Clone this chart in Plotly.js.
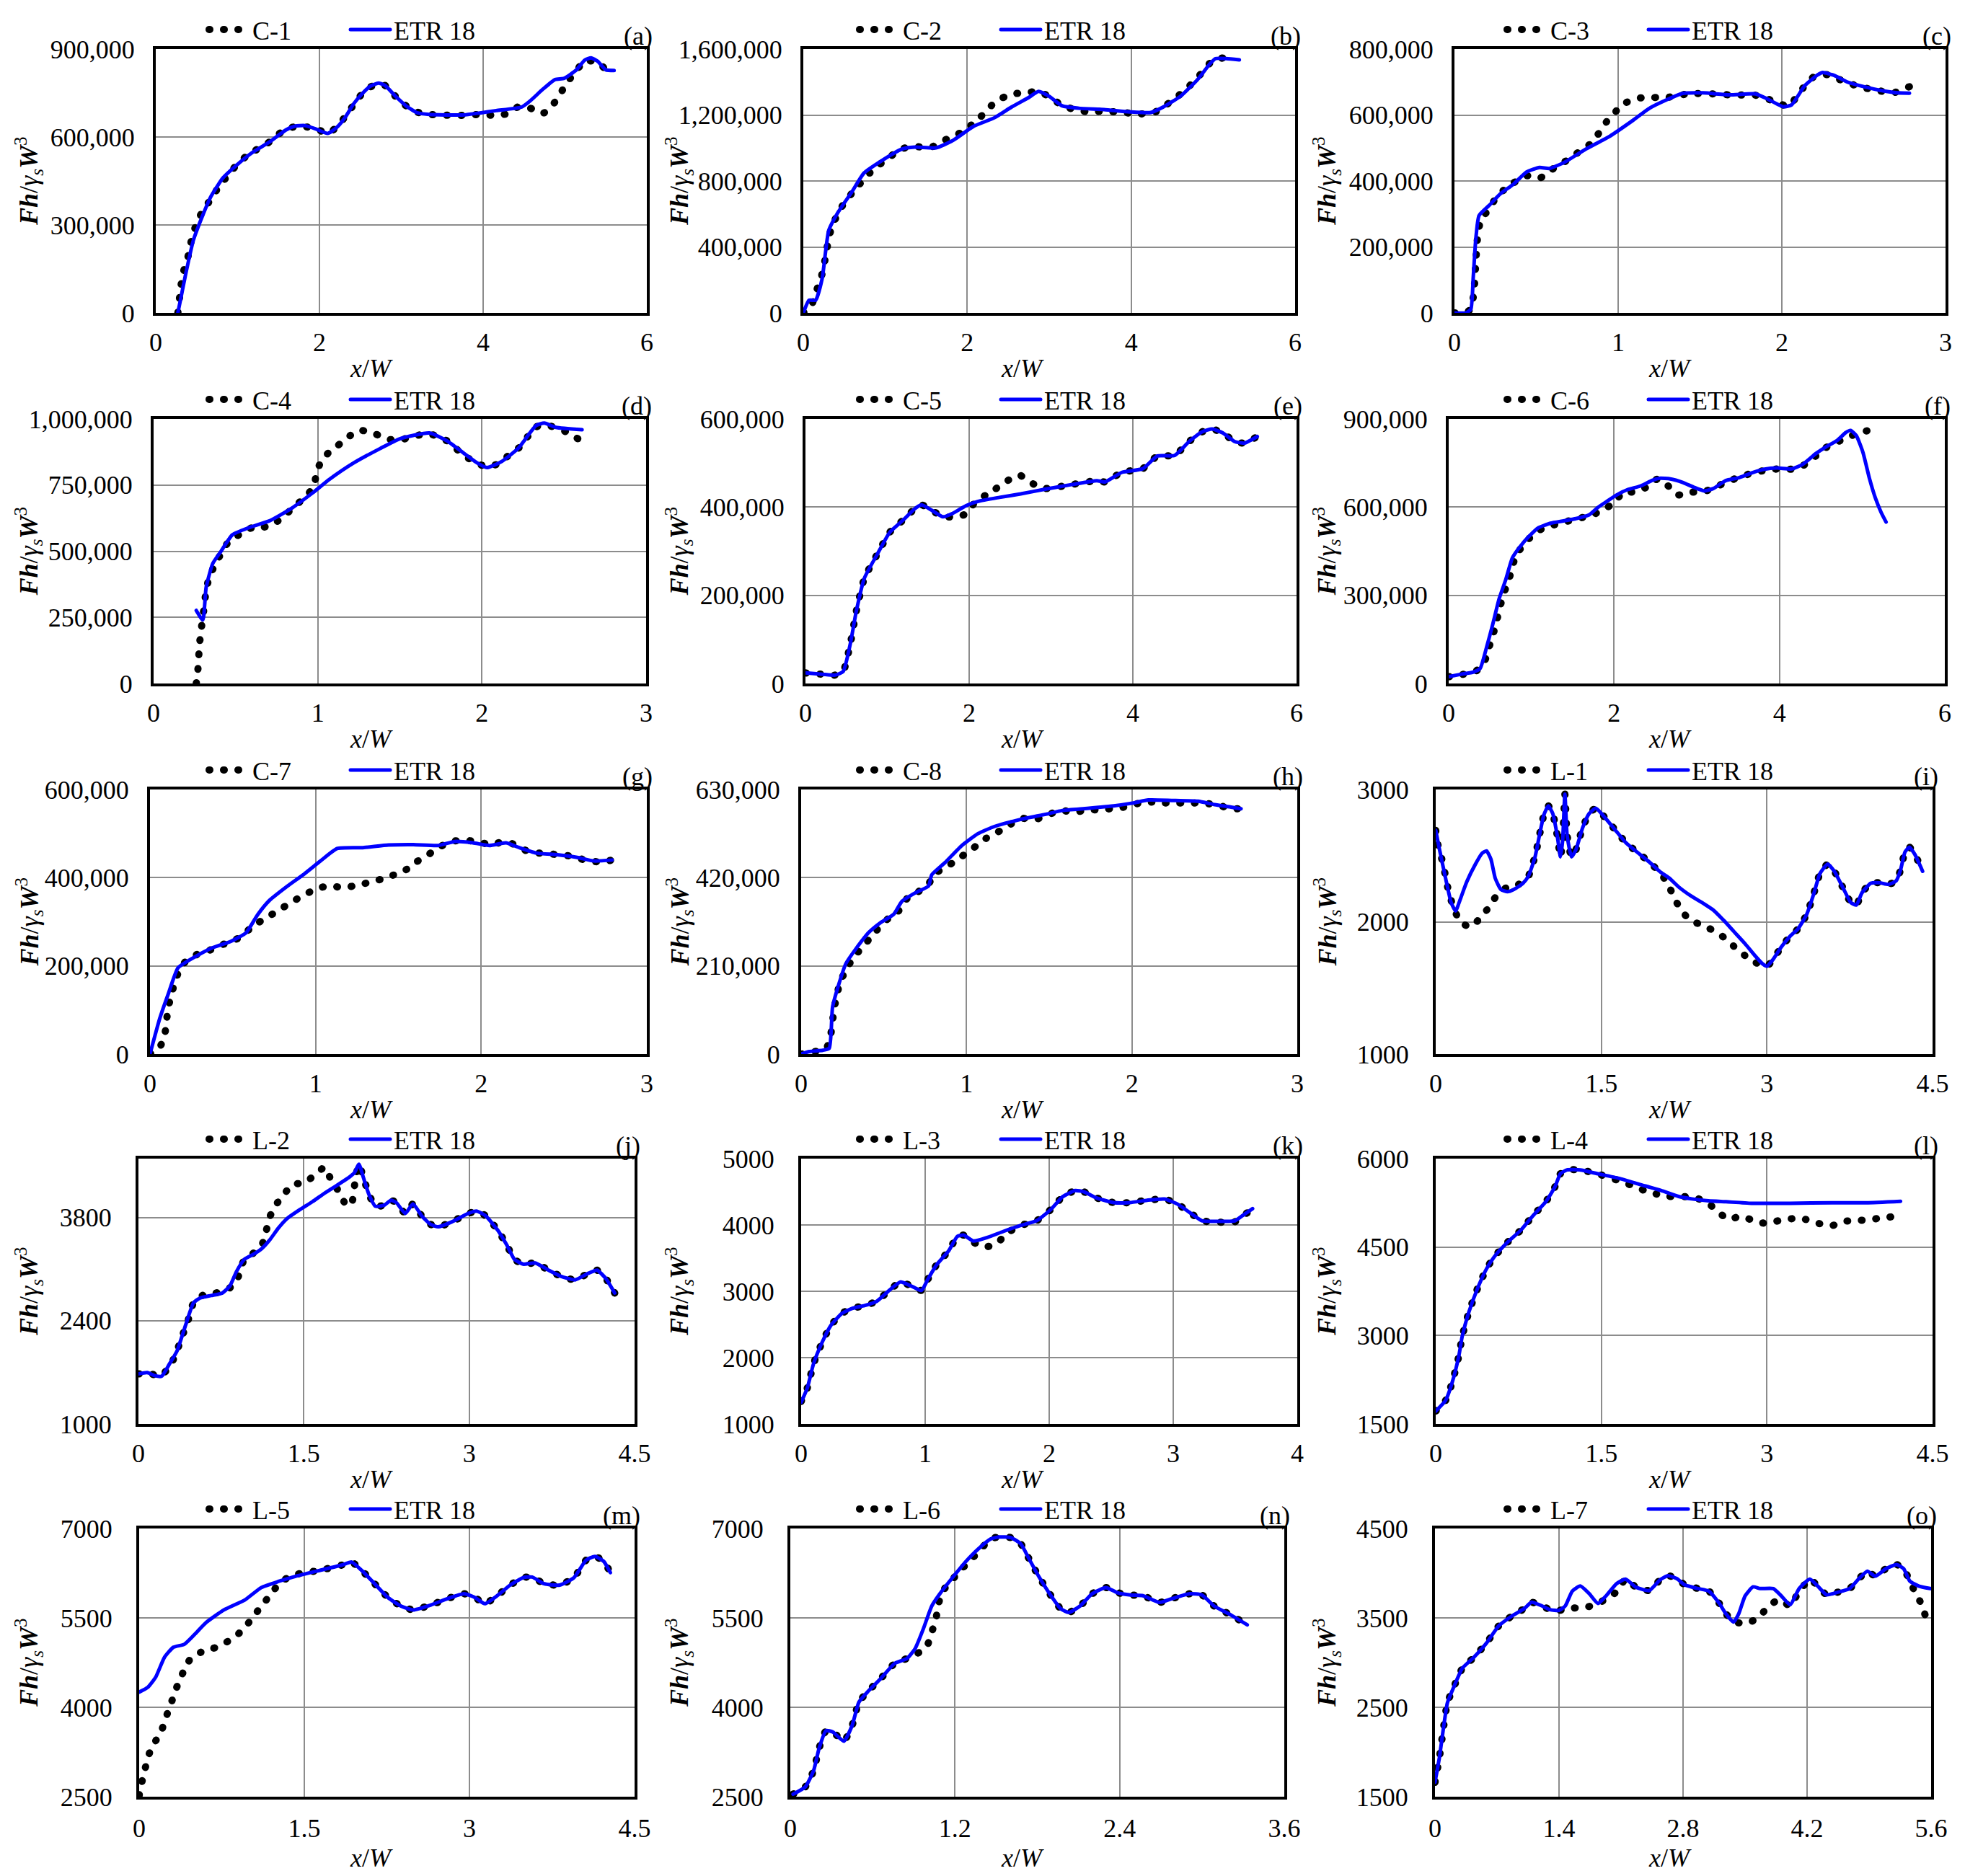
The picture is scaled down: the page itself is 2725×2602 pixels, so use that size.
<!DOCTYPE html>
<html><head><meta charset="utf-8">
<script src="https://cdn.plot.ly/plotly-3.0.1.min.js"></script>
<style>
html,body{margin:0;padding:0;background:#fff;}
#chart{width:2725px;height:2602px;}
path.js-line{stroke-linecap:round;}
</style></head><body><div id="chart"></div>
<script>
// ---------- data ----------
const expNames = ['C-1','C-2','C-3','C-4','C-5','C-6','C-7','C-8','L-1','L-2','L-3','L-4','L-5','L-6','L-7'];
const modelName = 'ETR 18';
const panelTags = ['(a)','(b)','(c)','(d)','(e)','(f)','(g)','(h)','(i)','(j)','(k)','(l)','(m)','(n)','(o)'];
const xTitle = '<i>x</i>/<i>W</i>';
const yTitle = '<b><i>Fh</i></b>/<i>γ<sub>s</sub></i><b><i>W</i></b><sup>3</sup>';
const xMax  = [6,6,3,3,6,6,3,3,4.5,4.5,4,4.5,4.5,3.6,5.6];
const xStep = [2,2,1,1,2,2,1,1,1.5,1.5,1,1.5,1.5,1.2,1.4];
const yMin  = [0,0,0,0,0,0,0,0,1000,1000,1000,1500,2500,2500,1500];
const yMax  = [900000,1600000,800000,1000000,600000,900000,600000,630000,3000,4600,5000,6000,7000,7000,4500];
const yStep = [300000,400000,200000,250000,200000,300000,200000,210000,1000,1400,1000,1500,1500,1500,1000];

const C1_x=[0.27,0.31,0.34,0.39,0.42,0.46,0.51,0.59,0.68,0.77,0.87,0.98,1.10,1.22,1.36,1.49,1.64,1.79,1.94,2.10,2.24,2.32,2.43,2.53,2.66,2.80,2.92,3.04,3.18,3.33,3.50,3.67,3.83,4.00,4.15,4.30,4.45,4.60,4.74,4.86,4.95,5.03,5.13,5.24,5.39,5.52];
const C1_y=[0,97000,142000,187000,230000,272000,315000,354000,391000,430000,465000,502000,533000,555000,577000,608000,632000,635000,631000,612000,641000,673000,714000,751000,776000,776000,741000,710000,686000,677000,675000,673000,675000,677000,673000,680000,706000,696000,682000,713000,751000,788000,822000,860000,855000,825000];
const ETRa_x=[0.27,0.36,0.46,0.57,0.67,0.82,0.98,1.18,1.39,1.59,1.70,1.82,1.95,2.10,2.21,2.31,2.42,2.52,2.62,2.72,2.80,2.93,3.06,3.19,3.34,3.75,3.96,4.16,4.47,4.57,4.73,4.88,4.99,5.14,5.24,5.32,5.40,5.50,5.60];
const ETRa_y=[0,125000,248000,330000,395000,460000,502000,547000,583000,624000,637000,639000,628000,612000,632000,665000,714000,747000,773000,784000,776000,739000,706000,683000,677000,675000,682000,690000,702000,722000,763000,796000,800000,829000,862000,870000,858000,829000,827000];

const C2_x=[0,0.10,0.15,0.21,0.25,0.28,0.31,0.35,0.40,0.48,0.59,0.69,0.81,0.92,1.05,1.18,1.36,1.56,1.77,1.93,2.05,2.16,2.29,2.42,2.56,2.72,2.87,3.04,3.16,3.32,3.47,3.64,3.81,3.97,4.12,4.27,4.41,4.55,4.67,4.79,4.89,4.98,5.14];
const C2_y=[0,45000,121000,201000,281000,368000,448000,528000,579000,652000,724000,782000,848000,896000,942000,993000,1008000,1005000,1059000,1095000,1139000,1187000,1255000,1302000,1328000,1335000,1343000,1299000,1255000,1233000,1219000,1223000,1219000,1212000,1207000,1212000,1255000,1306000,1357000,1415000,1473000,1524000,1549000];
const ETRb_x=[0,0.07,0.15,0.23,0.31,0.43,0.59,0.74,0.95,1.20,1.36,1.62,1.82,2.08,2.33,2.54,2.75,2.87,3.00,3.16,3.36,3.67,3.98,4.24,4.39,4.60,4.81,4.96,5.03,5.16,5.32];
const ETRb_y=[0,77000,77000,208000,499000,615000,732000,848000,921000,993000,1005000,1001000,1044000,1132000,1183000,1248000,1306000,1343000,1313000,1255000,1241000,1233000,1219000,1215000,1248000,1313000,1415000,1510000,1542000,1542000,1534000];

const C3_x=[0,0.06,0.10,0.12,0.13,0.14,0.16,0.21,0.25,0.30,0.36,0.44,0.52,0.58,0.64,0.71,0.77,0.84,0.89,0.93,0.99,1.05,1.12,1.21,1.31,1.44,1.58,1.72,1.83,1.94,2.04,2.13,2.20,2.28,2.37,2.47,2.58,2.68,2.78];
const C3_y=[0,0,11000,69000,150000,222000,281000,314000,346000,372000,394000,416000,408000,430000,448000,470000,492000,516000,551000,580000,613000,638000,651000,653000,654000,665000,664000,660000,661000,644000,627000,682000,718000,722000,704000,686000,675000,667000,686000];
const ETRc_x=[0,0.07,0.10,0.115,0.13,0.15,0.21,0.28,0.36,0.44,0.52,0.58,0.67,0.80,0.95,1.08,1.19,1.31,1.39,1.52,1.68,1.84,1.91,2.01,2.06,2.14,2.22,2.25,2.32,2.40,2.50,2.60,2.71,2.78];
const ETRc_y=[0,0,11000,110000,222000,295000,325000,361000,390000,427000,441000,438000,456000,496000,536000,580000,620000,649000,665000,667000,661000,664000,649000,625000,631000,689000,722000,729000,720000,700000,686000,675000,667000,666000];

const C4_x=[0.26,0.27,0.28,0.29,0.31,0.32,0.34,0.37,0.41,0.45,0.52,0.60,0.66,0.73,0.80,0.86,0.93,0.98,0.99,1.02,1.07,1.14,1.20,1.27,1.35,1.43,1.50,1.58,1.66,1.74,1.81,1.88,1.94,2.02,2.10,2.17,2.24,2.28,2.33,2.40,2.48,2.55,2.62];
const C4_y=[0,54000,150000,204000,299000,354000,403000,444000,490000,530000,562000,589000,589000,603000,635000,671000,707000,752000,793000,839000,875000,908000,938000,956000,943000,923000,920000,934000,943000,934000,907000,866000,843000,820000,830000,866000,898000,934000,970000,975000,961000,938000,911000];
const ETRd_x=[0.26,0.30,0.32,0.36,0.41,0.48,0.58,0.71,0.84,0.97,1.07,1.22,1.38,1.50,1.68,1.79,1.89,1.97,2.03,2.12,2.22,2.33,2.38,2.45,2.61];
const ETRd_y=[276000,240000,363000,453000,499000,562000,589000,616000,662000,721000,771000,834000,888000,925000,947000,916000,870000,834000,816000,839000,888000,975000,984000,968000,959000];

const C5_x=[0,0.21,0.36,0.46,0.55,0.62,0.72,0.88,1.03,1.19,1.34,1.42,1.55,1.68,1.80,1.96,2.06,2.20,2.32,2.47,2.61,2.75,2.91,3.25,3.56,3.66,3.87,4.12,4.30,4.51,4.69,4.85,4.97,5.10,5.24,5.36,5.52];
const C5_y=[24000,21000,19000,27000,92000,163000,239000,294000,343000,370000,397000,405000,392000,378000,378000,384000,408000,427000,441000,460000,473000,456000,442000,451000,460000,457000,479000,487000,516000,517000,549000,571000,577000,568000,549000,545000,560000];
const ETRe_x=[0,0.21,0.36,0.46,0.55,0.62,0.72,0.88,1.03,1.19,1.34,1.42,1.55,1.68,1.80,1.96,2.11,2.37,2.63,2.94,3.25,3.56,3.66,3.87,4.12,4.30,4.51,4.69,4.85,4.97,5.10,5.24,5.36,5.52];
const ETRe_y=[24000,21000,19000,27000,92000,163000,239000,294000,343000,370000,397000,405000,392000,378000,386000,403000,413000,422000,430000,441000,451000,460000,457000,479000,487000,516000,517000,549000,571000,577000,568000,549000,545000,560000];

const C6_x=[0,0.17,0.33,0.43,0.48,0.53,0.57,0.61,0.65,0.70,0.75,0.79,0.86,0.97,1.09,1.24,1.40,1.55,1.71,1.86,2.00,2.11,2.25,2.38,2.53,2.65,2.77,2.91,3.07,3.22,3.38,3.52,3.67,3.83,3.99,4.15,4.31,4.44,4.56,4.69,4.85,5.00,5.15];
const C6_y=[23000,31000,42000,72000,117000,159000,202000,247000,292000,333000,374000,416000,455000,492000,521000,537000,549000,561000,570000,590000,614000,651000,651000,666000,696000,673000,641000,651000,651000,667000,688000,702000,716000,725000,730000,729000,745000,774000,802000,820000,841000,855000,866000];
const ETRf_x=[0,0.14,0.30,0.38,0.46,0.53,0.61,0.69,0.77,0.87,0.97,1.08,1.23,1.39,1.54,1.70,1.80,1.91,2.03,2.16,2.32,2.47,2.55,2.68,2.83,2.96,3.09,3.20,3.35,3.51,3.66,3.82,3.97,4.15,4.28,4.44,4.57,4.70,4.80,4.86,4.93,5.01,5.09,5.16,5.23,5.29];
const ETRf_y=[23000,31000,39000,51000,125000,198000,288000,353000,427000,468000,500000,529000,545000,553000,561000,574000,598000,619000,641000,659000,672000,692000,698000,696000,684000,668000,655000,663000,690000,700000,716000,729000,733000,730000,745000,782000,806000,827000,853000,861000,843000,786000,696000,631000,582000,549000];

const C7_x=[0,0.06,0.09,0.10,0.11,0.13,0.15,0.18,0.22,0.30,0.38,0.45,0.53,0.60,0.65,0.72,0.79,0.86,0.94,1.00,1.08,1.16,1.23,1.32,1.40,1.47,1.55,1.61,1.68,1.74,1.82,1.89,1.97,2.06,2.14,2.21,2.29,2.38,2.47,2.56,2.64,2.73,2.79];
const C7_y=[0,16000,46000,76000,105000,136000,163000,193000,212000,229000,238000,250000,262000,283000,297000,313000,329000,346000,362000,375000,381000,378000,381000,389000,397000,406000,419000,436000,452000,468000,482000,485000,482000,475000,482000,474000,458000,455000,452000,448000,438000,436000,440000];
const ETRg_x=[0,0.06,0.11,0.17,0.26,0.37,0.49,0.58,0.65,0.72,0.83,0.93,1.03,1.13,1.28,1.44,1.59,1.74,1.84,1.95,2.05,2.15,2.23,2.33,2.46,2.58,2.68,2.79];
const ETRg_y=[0,82000,136000,196000,218000,240000,256000,275000,316000,348000,381000,408000,438000,466000,468000,474000,475000,473000,482000,479000,473000,479000,468000,456000,452000,446000,438000,440000];

const C8_x=[0,0.08,0.15,0.18,0.19,0.20,0.22,0.23,0.27,0.31,0.36,0.41,0.46,0.53,0.59,0.64,0.71,0.77,0.81,0.87,0.93,0.99,1.06,1.12,1.20,1.27,1.34,1.42,1.50,1.57,1.65,1.73,1.81,1.89,1.97,2.04,2.12,2.20,2.28,2.36,2.44,2.52,2.59,2.65];
const C8_y=[0,6000,11000,49000,77000,112000,141000,169000,198000,227000,250000,273000,296000,324000,341000,370000,387000,405000,430000,444000,459000,476000,496000,514000,531000,548000,561000,559000,571000,580000,576000,581000,582000,585000,589000,597000,600000,598000,598000,598000,597000,593000,585000,584000];
const ETRh_x=[0,0.05,0.13,0.17,0.19,0.23,0.27,0.33,0.41,0.48,0.56,0.61,0.69,0.77,0.79,0.87,0.97,1.07,1.17,1.33,1.48,1.58,1.73,1.89,2.01,2.10,2.24,2.40,2.50,2.60,2.66];
const ETRh_y=[0,6000,9000,14000,112000,169000,215000,250000,290000,313000,333000,364000,384000,400000,427000,456000,496000,525000,542000,559000,571000,580000,585000,591000,598000,605000,604000,602000,594000,588000,584000];

const L1_x=[0,0.02,0.05,0.08,0.10,0.13,0.16,0.22,0.31,0.41,0.48,0.55,0.64,0.75,0.84,0.88,0.90,0.94,0.98,1.02,1.06,1.10,1.13,1.15,1.17,1.19,1.23,1.27,1.33,1.39,1.45,1.52,1.62,1.72,1.81,1.93,2.04,2.11,2.16,2.22,2.30,2.40,2.51,2.61,2.70,2.80,2.90,3.00,3.05,3.13,3.21,3.28,3.36,3.42,3.48,3.55,3.61,3.69,3.76,3.81,3.86,3.94,4.02,4.10,4.17,4.21,4.25,4.29,4.34,4.41];
const L1_y=[2691,2582,2491,2382,2291,2191,2109,2004,1960,2033,2109,2196,2258,2282,2345,2445,2491,2655,2809,2876,2818,2655,2491,2618,2964,2655,2491,2545,2709,2818,2858,2800,2700,2600,2536,2455,2364,2273,2182,2091,2015,1978,1936,1882,1815,1745,1691,1664,1709,1809,1891,1945,2055,2200,2364,2436,2382,2255,2145,2127,2218,2291,2295,2282,2309,2391,2527,2564,2509,2382];
const ETRi_x=[0,0.03,0.09,0.14,0.18,0.22,0.28,0.36,0.42,0.46,0.50,0.54,0.59,0.65,0.71,0.79,0.84,0.90,0.94,0.98,1.02,1.06,1.10,1.13,1.15,1.17,1.19,1.23,1.27,1.33,1.39,1.45,1.52,1.62,1.72,1.81,1.93,2.04,2.12,2.20,2.32,2.43,2.51,2.61,2.70,2.80,2.90,2.96,3.00,3.05,3.13,3.21,3.28,3.36,3.42,3.48,3.55,3.61,3.69,3.76,3.81,3.86,3.94,4.02,4.10,4.17,4.21,4.25,4.29,4.34,4.41];
const ETRi_y=[2691,2564,2327,2145,2082,2164,2300,2436,2518,2536,2473,2327,2245,2227,2245,2291,2345,2491,2655,2809,2876,2818,2655,2491,2618,2964,2655,2491,2545,2709,2818,2858,2800,2700,2600,2536,2455,2373,2327,2264,2191,2136,2091,2009,1927,1836,1736,1682,1664,1709,1809,1891,1945,2055,2200,2364,2436,2382,2255,2145,2127,2218,2291,2295,2282,2309,2391,2527,2564,2509,2382];

const L2_x=[0,0.11,0.20,0.29,0.35,0.39,0.44,0.50,0.58,0.70,0.81,0.89,0.96,1.04,1.12,1.16,1.19,1.25,1.32,1.40,1.50,1.60,1.69,1.75,1.82,1.88,1.93,1.97,2.00,2.04,2.09,2.15,2.23,2.29,2.34,2.42,2.49,2.57,2.65,2.72,2.84,2.99,3.07,3.15,3.26,3.34,3.41,3.49,3.60,3.72,3.83,3.96,4.08,4.16,4.24,4.32];
const L2_y=[1680,1680,1647,1795,1991,2171,2351,2645,2743,2776,2825,2939,3233,3315,3430,3626,3806,3979,4116,4254,4264,4378,4483,4300,4150,3980,3970,4350,4520,4345,4116,3953,3969,4035,4002,3855,3986,3822,3708,3675,3740,3855,3887,3822,3626,3430,3233,3168,3184,3086,3005,2955,3044,3086,2972,2776];
const ETRj_x=[0,0.08,0.15,0.21,0.28,0.35,0.43,0.50,0.56,0.66,0.76,0.83,0.89,0.96,1.04,1.12,1.19,1.27,1.35,1.46,1.58,1.69,1.81,1.91,1.96,2.00,2.04,2.09,2.15,2.23,2.29,2.34,2.42,2.49,2.57,2.65,2.72,2.84,2.99,3.07,3.15,3.26,3.34,3.41,3.49,3.60,3.72,3.83,3.96,4.08,4.16,4.24,4.32];
const ETRj_y=[1680,1697,1654,1647,1811,1991,2351,2645,2710,2743,2776,2874,3070,3233,3299,3381,3495,3659,3789,3904,4018,4133,4247,4345,4411,4525,4345,4116,3953,3969,4035,4002,3855,3986,3822,3708,3675,3740,3855,3887,3822,3626,3430,3233,3168,3184,3086,3005,2955,3044,3086,2972,2776];

const L3_x=[0,0.05,0.10,0.17,0.24,0.33,0.41,0.51,0.61,0.71,0.80,0.88,0.97,1.02,1.09,1.19,1.26,1.31,1.39,1.48,1.58,1.65,1.77,1.90,2.01,2.11,2.21,2.28,2.38,2.52,2.65,2.79,2.93,3.03,3.13,3.23,3.37,3.50,3.57,3.64];
const L3_y=[1340,1544,1907,2233,2487,2668,2741,2784,2850,3013,3140,3086,3013,3176,3394,3611,3829,3847,3738,3666,3720,3865,3992,4065,4228,4428,4518,4500,4409,4337,4337,4373,4391,4319,4192,4065,4040,4050,4156,4220];
const ETRk_x=[0,0.05,0.10,0.17,0.24,0.33,0.41,0.51,0.61,0.71,0.80,0.88,0.97,1.02,1.09,1.19,1.26,1.31,1.39,1.50,1.63,1.77,1.90,2.01,2.11,2.21,2.28,2.38,2.52,2.65,2.79,2.93,3.03,3.13,3.23,3.37,3.50,3.57,3.64];
const ETRk_y=[1326,1544,1907,2233,2487,2668,2741,2784,2850,3013,3140,3086,3013,3176,3394,3611,3829,3847,3757,3811,3902,3992,4065,4228,4428,4518,4500,4409,4337,4337,4373,4391,4319,4192,4065,4054,4065,4156,4246];

const L4_x=[0,0.09,0.15,0.21,0.24,0.30,0.38,0.46,0.53,0.65,0.77,0.88,1.00,1.08,1.13,1.19,1.31,1.46,1.66,1.77,1.89,2.00,2.11,2.23,2.35,2.46,2.55,2.65,2.76,2.88,2.99,3.11,3.23,3.35,3.47,3.58,3.70,3.82,3.94,4.06,4.17];
const L4_y=[1717,1901,2208,2658,2985,3394,3803,4131,4335,4581,4785,5030,5276,5521,5746,5808,5808,5746,5624,5550,5460,5399,5358,5358,5337,5255,5112,4969,5022,4949,4900,4949,4981,4969,4900,4859,4936,4949,4969,4998,5022];
const ETRl_x=[0,0.09,0.15,0.21,0.24,0.30,0.38,0.46,0.53,0.65,0.77,0.88,1.00,1.08,1.13,1.19,1.31,1.46,1.66,1.85,2.04,2.20,2.32,2.47,2.63,2.86,3.21,3.59,3.90,4.21];
const ETRl_y=[1717,1901,2208,2658,2985,3394,3803,4131,4335,4581,4785,5030,5276,5521,5746,5808,5808,5746,5665,5562,5460,5358,5317,5284,5268,5243,5243,5251,5251,5276];

const L5_x=[0,0.02,0.05,0.08,0.12,0.19,0.23,0.27,0.31,0.35,0.40,0.46,0.56,0.67,0.77,0.88,0.97,1.04,1.11,1.19,1.27,1.38,1.42,1.65,1.84,1.93,2.03,2.15,2.26,2.38,2.49,2.65,2.80,2.95,3.05,3.14,3.26,3.37,3.49,3.57,3.68,3.82,3.95,4.06,4.14,4.22,4.28];
const L5_y=[2520,2709,2939,3160,3357,3545,3753,3971,4171,4380,4589,4798,4923,4986,5069,5195,5362,5529,5696,5884,6072,6210,6230,6302,6386,6436,6281,6051,5842,5696,5634,5717,5822,5905,5842,5738,5884,6051,6177,6185,6072,6051,6177,6469,6532,6448,6260];
const ETRm_x=[0,0.08,0.15,0.23,0.31,0.41,0.50,0.61,0.77,0.96,1.11,1.27,1.42,1.65,1.84,1.93,2.03,2.15,2.26,2.38,2.49,2.65,2.80,2.95,3.05,3.14,3.26,3.37,3.49,3.57,3.68,3.82,3.95,4.06,4.14,4.22,4.28];
const ETRm_y=[4255,4338,4505,4840,5007,5057,5216,5425,5634,5801,6010,6114,6198,6302,6386,6436,6281,6051,5842,5696,5634,5717,5822,5905,5842,5738,5884,6051,6177,6185,6072,6051,6177,6469,6532,6448,6260];

const L6_x=[0.02,0.11,0.17,0.21,0.26,0.31,0.39,0.45,0.50,0.57,0.66,0.76,0.85,0.94,1.00,1.03,1.06,1.08,1.11,1.17,1.25,1.34,1.46,1.52,1.61,1.68,1.74,1.81,1.89,1.97,2.03,2.11,2.20,2.30,2.38,2.48,2.57,2.69,2.78,2.91,3.00,3.09,3.21,3.33];
const L6_y=[2542,2667,2939,3315,3607,3586,3432,3691,4088,4276,4485,4735,4819,4923,5049,5257,5466,5738,5947,6114,6323,6532,6824,6858,6845,6741,6490,6198,5905,5654,5592,5696,5905,6009,5926,5884,5872,5759,5822,5905,5884,5696,5550,5383];
const ETRn_x=[0.02,0.11,0.17,0.21,0.26,0.31,0.39,0.45,0.50,0.57,0.66,0.76,0.85,0.91,0.97,1.03,1.09,1.19,1.28,1.37,1.46,1.52,1.61,1.68,1.74,1.81,1.89,1.97,2.03,2.11,2.20,2.30,2.38,2.48,2.57,2.69,2.78,2.91,3.00,3.09,3.21,3.33];
const ETRn_y=[2542,2667,2939,3315,3607,3586,3432,3691,4088,4276,4485,4735,4819,4986,5320,5696,5905,6198,6448,6657,6824,6858,6845,6741,6490,6198,5905,5654,5592,5696,5905,6009,5926,5884,5872,5759,5822,5905,5884,5696,5550,5383];

const L7_x=[0,0.05,0.10,0.14,0.22,0.31,0.43,0.58,0.72,0.87,1.01,1.09,1.21,1.30,1.40,1.52,1.66,1.81,1.94,2.06,2.15,2.27,2.42,2.54,2.63,2.73,2.82,2.97,3.09,3.21,3.28,3.38,3.54,3.67,3.77,3.89,4.01,4.08,4.23,4.32,4.42,4.54,4.68,4.78,4.88,4.97,5.09,5.21,5.29,5.36,5.42,5.49,5.54];
const L7_y=[1661,1939,2300,2550,2745,2939,3050,3217,3411,3522,3606,3675,3633,3592,3583,3611,3611,3647,3717,3800,3933,3842,3806,3925,3972,3939,3869,3828,3800,3661,3550,3453,3444,3522,3639,3703,3633,3745,3933,3856,3758,3786,3828,3933,4022,3967,4050,4097,4050,3911,3786,3656,3508];
const ETRo_x=[0,0.05,0.10,0.14,0.22,0.31,0.43,0.58,0.72,0.87,1.01,1.09,1.21,1.30,1.40,1.47,1.55,1.64,1.74,1.84,1.93,2.05,2.15,2.27,2.42,2.54,2.63,2.73,2.82,2.97,3.09,3.21,3.28,3.37,3.43,3.50,3.59,3.67,3.82,3.91,4.01,4.11,4.23,4.32,4.42,4.54,4.68,4.78,4.88,4.97,5.09,5.21,5.29,5.36,5.46,5.59];
const ETRo_y=[1661,1939,2300,2550,2745,2939,3050,3217,3411,3522,3606,3675,3633,3592,3583,3633,3800,3856,3772,3661,3745,3883,3933,3842,3806,3925,3972,3939,3869,3828,3800,3661,3550,3453,3550,3745,3847,3828,3828,3745,3647,3828,3933,3856,3758,3786,3828,3933,4022,3967,4050,4097,4050,3911,3856,3828];

const expX=[C1_x,C2_x,C3_x,C4_x,C5_x,C6_x,C7_x,C8_x,L1_x,L2_x,L3_x,L4_x,L5_x,L6_x,L7_x];
const expY=[C1_y,C2_y,C3_y,C4_y,C5_y,C6_y,C7_y,C8_y,L1_y,L2_y,L3_y,L4_y,L5_y,L6_y,L7_y];
const modX=[ETRa_x,ETRb_x,ETRc_x,ETRd_x,ETRe_x,ETRf_x,ETRg_x,ETRh_x,ETRi_x,ETRj_x,ETRk_x,ETRl_x,ETRm_x,ETRn_x,ETRo_x];
const modY=[ETRa_y,ETRb_y,ETRc_y,ETRd_y,ETRe_y,ETRf_y,ETRg_y,ETRh_y,ETRi_y,ETRj_y,ETRk_y,ETRl_y,ETRm_y,ETRn_y,ETRo_y];

// ---------- layout geometry (pixels) ----------
const W=2725, H=2602;
const boxes=[[216,897,68,434],[1114,1796,68,434],[2017,2698,68,434],
 [213,896,581,948],[1117,1798,581,948],[2009,2697,581,948],
 [208,897,1095,1462],[1111,1799,1095,1462],[1991,2680,1095,1462],
 [192,880,1607,1975],[1111,1799,1607,1975],[1991,2680,1607,1975],
 [193,880,2120,2492],[1096,1781,2120,2492],[1990,2678,2120,2492]];
const legendLeft=[285,1187,2085];
const xTitleCenter=[515,1418,2316];
const yTitleCenter=[40,942,1840];
const FONT='"Liberation Serif","Times New Roman",serif';

const traces=[]; const layout={width:W,height:H,margin:{l:0,r:0,t:0,b:0},
  paper_bgcolor:'#fff',plot_bgcolor:'#fff',showlegend:true,hovermode:false,
  font:{family:FONT,size:36,color:'#000'},annotations:[]};

for(let i=0;i<15;i++){
  const s=i===0?'':String(i+1);
  const b=boxes[i];
  const comma=i<8;
  const leg='legend'+s;
  traces.push({x:expX[i],y:expY[i],name:expNames[i],type:'scatter',mode:'lines',
    xaxis:'x'+s,yaxis:'y'+s,legend:leg,
    line:{color:'#000',width:10,dash:'1px,19px',shape:'spline',smoothing:0.5}});
  traces.push({x:modX[i],y:modY[i],name:modelName,type:'scatter',mode:'lines',
    xaxis:'x'+s,yaxis:'y'+s,legend:leg,
    line:{color:'#0000FF',width:5,shape:'spline',smoothing:0.5}});
  const common={showline:true,mirror:true,linecolor:'#000',linewidth:4,
    showgrid:true,gridcolor:'#8c8c8c',gridwidth:2,zeroline:false,
    ticks:'outside',tickcolor:'rgba(0,0,0,0)',tickfont:{size:36,color:'#000',family:FONT}};
  layout['xaxis'+s]=Object.assign({},common,{domain:[b[0]/W,b[1]/W],anchor:'y'+s,
    range:[0,xMax[i]],tick0:0,dtick:xStep[i],ticklen:i>=12?9:6});
  layout['yaxis'+s]=Object.assign({},common,{domain:[1-b[3]/H,1-b[2]/H],anchor:'x'+s,
    range:[yMin[i],yMax[i]],tick0:yMin[i],dtick:yStep[i],ticklen:comma?18:26,
    tickformat:comma?',':'d'});
  layout[leg]={x:legendLeft[i%3]/W,y:1-(b[2]-27)/H,xanchor:'left',yanchor:'middle',
    orientation:'h',bgcolor:'rgba(0,0,0,0)',borderwidth:0,itemwidth:55,
    entrywidth:126,entrywidthmode:'pixels',traceorder:'normal',
    font:{size:36,family:FONT,color:'#000'}};
  layout.annotations.push({text:panelTags[i],xref:'paper',yref:'paper',
    x:(b[1]+10)/W,y:1-(b[2]-18)/H,xanchor:'right',yanchor:'middle',showarrow:false,
    font:{size:36,family:FONT,color:'#000'}});
  layout.annotations.push({text:xTitle,xref:'paper',yref:'paper',
    x:xTitleCenter[i%3]/W,y:1-(b[3]+(i>=12?85:77))/H,xanchor:'center',yanchor:'middle',showarrow:false,
    font:{size:36,family:FONT,color:'#000'}});
  layout.annotations.push({text:yTitle,xref:'paper',yref:'paper',textangle:-90,
    x:yTitleCenter[i%3]/W,y:1-((b[2]+b[3])/2)/H,xanchor:'center',yanchor:'middle',showarrow:false,
    font:{size:36,family:FONT,color:'#000'}});
}
Plotly.newPlot('chart',traces,layout,{staticPlot:true});
</script></body></html>
